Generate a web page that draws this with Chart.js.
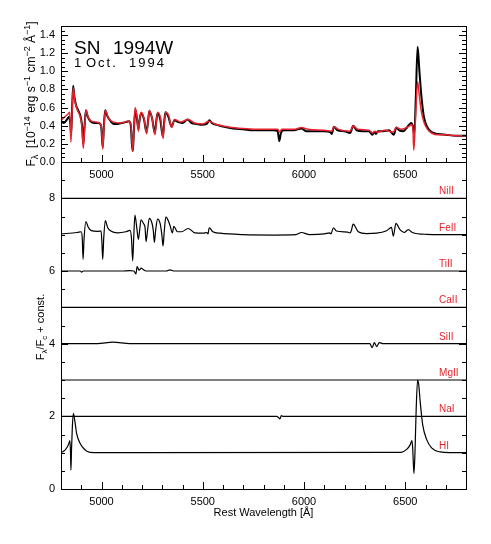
<!DOCTYPE html>
<html>
<head>
<meta charset="utf-8">
<script src="https://cdn.jsdelivr.net/npm/chart.js@4.4.1/dist/chart.umd.min.js"></script>
<style>
  html, body { margin: 0; padding: 0; background: #fff; }
  #wrap { position: relative; width: 491px; height: 544px; }
  canvas { position: absolute; left: 0; top: 0; }
</style>
</head>
<body>
<div id="wrap">
  <canvas id="topPanel" width="491" height="544"></canvas>
  <canvas id="bottomPanel" width="491" height="544"></canvas>
</div>
<script>
// observed spectrum, SN 1994W, 1 Oct 1994 (black)
const obsWave = [4800, 4815, 4830, 4840, 4846, 4850, 4855, 4860, 4866, 4875, 4885, 4897, 4905, 4910, 4915, 4923, 4932, 4945, 4965, 4985,
  4998, 5006, 5012, 5018, 5030, 5045, 5060, 5080, 5100, 5120, 5135, 5145, 5150, 5155, 5160, 5167, 5175, 5182, 5189, 5196,
  5210, 5222, 5230, 5236, 5250, 5263, 5270, 5277, 5290, 5303, 5310, 5316, 5330, 5346, 5360, 5380, 5400, 5425, 5445, 5470,
  5495, 5520, 5533, 5545, 5570, 5600, 5650, 5700, 5750, 5800, 5850, 5870, 5878, 5886, 5900, 5950, 5988, 6010, 6050, 6100,
  6130, 6137, 6148, 6165, 6200, 6228, 6243, 6260, 6290, 6320, 6338, 6347, 6355, 6365, 6390, 6420, 6443, 6456, 6470, 6490,
  6505, 6515, 6530, 6537, 6545, 6552, 6561, 6570, 6580, 6592, 6610, 6630, 6660, 6700, 6750, 6800];
const obsFlux = [0.45, 0.43, 0.47, 0.50, 0.42, 0.30, 0.60, 0.84, 0.72, 0.62, 0.57, 0.50, 0.38, 0.20, 0.35, 0.57, 0.50, 0.45, 0.43, 0.43,
  0.40, 0.16, 0.40, 0.57, 0.50, 0.45, 0.42, 0.42, 0.43, 0.44, 0.45, 0.40, 0.20, 0.12, 0.35, 0.58, 0.48, 0.36, 0.48, 0.54,
  0.47, 0.33, 0.45, 0.56, 0.48, 0.32, 0.44, 0.54, 0.47, 0.28, 0.45, 0.55, 0.50, 0.39, 0.46, 0.44, 0.43, 0.47, 0.43, 0.42,
  0.41, 0.42, 0.46, 0.43, 0.41, 0.39, 0.37, 0.36, 0.35, 0.35, 0.35, 0.34, 0.23, 0.32, 0.35, 0.35, 0.37, 0.34, 0.34, 0.34,
  0.33, 0.31, 0.39, 0.35, 0.34, 0.32, 0.40, 0.35, 0.34, 0.34, 0.30, 0.33, 0.31, 0.34, 0.34, 0.35, 0.30, 0.38, 0.35, 0.34,
  0.37, 0.40, 0.43, 0.40, 0.32, 0.70, 1.27, 1.00, 0.72, 0.50, 0.38, 0.33, 0.31, 0.30, 0.29, 0.29];

// synthetic spectrum (red)
const modelWave = [4800, 4820, 4835, 4843, 4849, 4854, 4860, 4868, 4880, 4895, 4903, 4910, 4916, 4923, 4935, 4950, 4975, 4995, 5001, 5006,
  5012, 5019, 5035, 5060, 5100, 5130, 5145, 5150, 5154, 5159, 5166, 5176, 5182, 5188, 5196, 5210, 5223, 5229, 5236, 5250,
  5264, 5270, 5277, 5292, 5304, 5310, 5317, 5332, 5347, 5360, 5390, 5428, 5460, 5500, 5530, 5560, 5620, 5700, 5800, 5870,
  5880, 5890, 5950, 5988, 6020, 6100, 6137, 6148, 6170, 6228, 6243, 6265, 6320, 6340, 6350, 6360, 6400, 6440, 6456, 6480,
  6515, 6532, 6538, 6542, 6547, 6553, 6561, 6570, 6580, 6592, 6610, 6630, 6660, 6700, 6750, 6800];
const modelFlux = [0.46, 0.50, 0.53, 0.55, 0.22, 0.50, 0.82, 0.68, 0.58, 0.50, 0.40, 0.15, 0.35, 0.57, 0.49, 0.45, 0.44, 0.42, 0.35, 0.14,
  0.38, 0.57, 0.48, 0.44, 0.43, 0.45, 0.42, 0.25, 0.12, 0.30, 0.60, 0.48, 0.34, 0.46, 0.55, 0.48, 0.31, 0.42, 0.57, 0.48,
  0.30, 0.42, 0.55, 0.48, 0.26, 0.42, 0.55, 0.51, 0.38, 0.47, 0.44, 0.47, 0.43, 0.42, 0.45, 0.42, 0.39, 0.37, 0.36, 0.36,
  0.33, 0.36, 0.36, 0.38, 0.36, 0.35, 0.34, 0.39, 0.36, 0.34, 0.40, 0.36, 0.35, 0.32, 0.34, 0.33, 0.35, 0.33, 0.38, 0.36,
  0.39, 0.41, 0.36, 0.13, 0.30, 0.60, 0.885, 0.72, 0.55, 0.44, 0.36, 0.32, 0.30, 0.30, 0.29, 0.29];

// single-ion spectra, F/Fc + offset
const flatWave = [4800, 6800];
const niFlux = [8, 8];
const feWave = [4800, 4880, 4900, 4905, 4909, 4914, 4923, 4935, 4950, 4980, 4998, 5002, 5006, 5011, 5019, 5030, 5046, 5080, 5120, 5141,
  5148, 5154, 5159, 5165, 5174, 5182, 5188, 5195, 5208, 5215, 5220, 5227, 5236, 5250, 5256, 5261, 5267, 5277, 5290, 5298,
  5304, 5310, 5318, 5338, 5350, 5357, 5375, 5395, 5428, 5461, 5502, 5520, 5526, 5532, 5550, 5585, 5700, 5850, 5960, 5988,
  6028, 6100, 6127, 6133, 6145, 6160, 6215, 6227, 6233, 6243, 6268, 6309, 6358, 6408, 6432, 6441, 6454, 6474, 6495, 6515,
  6535, 6605, 6800];
const feFlux = [7.02, 7.06, 7.08, 6.9, 6.32, 6.9, 7.36, 7.2, 7.11, 7.09, 7.1, 6.8, 6.32, 6.9, 7.39, 7.2, 7.1, 7.05, 7.08, 7.12,
  6.9, 6.28, 6.9, 7.54, 7.2, 6.87, 7.1, 7.41, 7.3, 7.2, 6.81, 7.1, 7.45, 7.3, 7.1, 6.79, 7.1, 7.43, 7.3, 7.0,
  6.69, 7.1, 7.49, 7.26, 7.05, 7.23, 7.08, 7.08, 7.17, 7.05, 7.04, 7.06, 7.02, 7.19, 7.08, 7.04, 7.0, 6.99, 7.0, 7.06,
  7.0, 7.02, 7.05, 7.02, 7.19, 7.1, 7.07, 7.05, 7.1, 7.29, 7.08, 7.03, 7.04, 7.11, 7.2, 6.96, 7.31, 7.14, 7.06, 7.14,
  7.06, 7.01, 7.0];
const tiWave = [4800, 4895, 4902, 4910, 5000, 5100, 5140, 5160, 5170, 5176, 5186, 5196, 5206, 5220, 5320, 5338, 5360, 6800];
const tiFlux = [6.0, 6.0, 5.97, 6.0, 6.0, 6.0, 6.01, 6.0, 5.92, 6.12, 6.02, 6.08, 6.04, 6.0, 6.0, 6.03, 6.0, 6.0];
const caFlux = [5, 5];
const siWave = [4800, 4980, 5057, 5140, 6325, 6337, 6347, 6359, 6372, 6390, 6800];
const siFlux = [4.0, 4.0, 4.04, 4.0, 4.0, 3.89, 4.03, 3.92, 4.03, 4.0, 4.0];
const mgFlux = [3, 3];
const naWave = [4800, 5865, 5874, 5881, 5888, 5896, 6800];
const naFlux = [2, 2, 1.97, 1.93, 2.02, 2.0, 2.0];
const hWave = [4800, 4820, 4836, 4844, 4847, 4849, 4852, 4856, 4861, 4869, 4877, 4894, 4918, 4943, 4990,
  6480, 6507, 6523, 6533, 6537, 6540, 6543, 6548, 6554, 6561, 6567, 6573, 6586, 6606, 6630, 6672, 6720, 6800];
const hFlux = [1.0, 1.07, 1.21, 1.33, 1.0, 0.52, 1.1, 1.7, 2.08, 1.85, 1.53, 1.26, 1.08, 1.01, 1.0,
  1.01, 1.09, 1.2, 1.33, 1.1, 0.7, 0.43, 1.0, 2.2, 3.0, 2.85, 2.45, 1.77, 1.36, 1.13, 1.02, 1.0, 1.0];

const ionNames = ['HI', 'NaI', 'MgII', 'SiII', 'CaII', 'TiII', 'FeII', 'NiII'];
const ionLevels = [1, 2, 3, 4, 5, 6, 7, 8];

// tick labels
const waveTicks = [5000, 5500, 6000, 6500];
const fluxTicks = [0.0, 0.2, 0.4, 0.6, 0.8, 1.0, 1.2, 1.4];
const relTicks = [0, 2, 4, 6, 8];

const RED = 'rgb(230,35,45)';
const FONT = "'Liberation Sans', Arial, sans-serif";
Chart.defaults.font.family = FONT;
Chart.defaults.font.size = 11;
Chart.defaults.color = '#000';

function pairs(xs, ys) {
  return xs.map((x, i) => ({ x: x, y: ys[i] }));
}

function isMajor(v, step) {
  const r = v / step;
  return Math.abs(r - Math.round(r)) < 1e-6;
}

// closed box with inward ticks, IDL style
const framePlugin = {
  id: 'frame',
  afterDraw(chart, args, opts) {
    const ctx = chart.ctx, a = chart.chartArea;
    const xs = chart.scales.x, ys = chart.scales.y;
    ctx.save();
    ctx.strokeStyle = '#000';
    ctx.lineWidth = 1;
    ctx.strokeRect(Math.round(a.left) + 0.5, Math.round(a.top) + 0.5,
      Math.round(a.right - a.left), Math.round(a.bottom - a.top));
    ctx.beginPath();
    const nx = Math.round((xs.max - xs.min) / opts.xMinor);
    for (let i = 0; i <= nx; i++) {
      const v = xs.min + i * opts.xMinor;
      const px = Math.round(xs.getPixelForValue(v)) + 0.5;
      const len = isMajor(v, opts.xMajor) ? 7 : 4;
      ctx.moveTo(px, a.bottom);
      ctx.lineTo(px, a.bottom - len);
    }
    const ny = Math.round((ys.max - ys.min) / opts.yMinor);
    for (let i = 0; i <= ny; i++) {
      const v = ys.min + i * opts.yMinor;
      const py = Math.round(ys.getPixelForValue(v)) + 0.5;
      const len = isMajor(v, opts.yMajor) ? 7 : 4;
      ctx.moveTo(a.left, py);
      ctx.lineTo(a.left + len, py);
      ctx.moveTo(a.right, py);
      ctx.lineTo(a.right - len, py);
    }
    ctx.stroke();
    ctx.restore();
  }
};

// text with sub/superscripts, parts = [text, size, dy]
function drawRich(ctx, x, y, parts, angle) {
  ctx.save();
  ctx.translate(x, y);
  ctx.rotate(angle);
  ctx.textAlign = 'left';
  ctx.textBaseline = 'alphabetic';
  ctx.fillStyle = '#000';
  let total = 0;
  parts.forEach(p => {
    ctx.font = p[1] + 'px ' + FONT;
    total += ctx.measureText(p[0]).width;
  });
  let cx = -total / 2;
  parts.forEach(p => {
    ctx.font = p[1] + 'px ' + FONT;
    ctx.fillText(p[0], cx, p[2] || 0);
    cx += ctx.measureText(p[0]).width;
  });
  ctx.restore();
}

const topNotes = {
  id: 'topNotes',
  afterDraw(chart) {
    const ctx = chart.ctx;
    ctx.save();
    ctx.fillStyle = '#000';
    ctx.textAlign = 'left';
    ctx.textBaseline = 'alphabetic';
    ctx.font = '19px ' + FONT;
    ctx.fillText('SN', 74, 54);
    ctx.fillText('1994W', 113, 54);
    ctx.font = '13px ' + FONT;
    if ('letterSpacing' in ctx) ctx.letterSpacing = '2px';
    ctx.fillText('1', 74, 67);
    ctx.fillText('Oct.', 86, 67);
    ctx.fillText('1994', 129, 67);
    ctx.restore();
    drawRich(ctx, 35, 94, [
      ['F', 12], ['\u03bb', 9, 3], ['  [10', 12], ['\u221214', 9, -5], [' erg s', 12], ['\u22121', 9, -5],
      [' cm', 12], ['\u22122', 9, -5], [' \u00c5', 12], ['\u22121', 9, -5], [']', 12]
    ], -Math.PI / 2);
  }
};

const bottomNotes = {
  id: 'bottomNotes',
  afterDraw(chart) {
    const ctx = chart.ctx;
    const xs = chart.scales.x, ys = chart.scales.y;
    ctx.save();
    ctx.fillStyle = RED;
    ctx.font = '10px ' + FONT;
    ctx.textAlign = 'left';
    ctx.textBaseline = 'middle';
    ionNames.forEach((name, i) => {
      ctx.fillText(name, xs.getPixelForValue(6667), ys.getPixelForValue(ionLevels[i] + 0.19));
    });
    ctx.fillStyle = '#000';
    ctx.font = '11px ' + FONT;
    ctx.textAlign = 'center';
    ctx.textBaseline = 'middle';
    ctx.fillText('Rest Wavelength [\u00c5]', (chart.chartArea.left + chart.chartArea.right) / 2, 513);
    ctx.restore();
    drawRich(ctx, 43.5, 327, [
      ['F', 11], ['\u03bb', 8, 3], ['/F', 11], ['c', 8, 3], [' + const.', 11]
    ], -Math.PI / 2);
  }
};

function fixedTicks(values) {
  return s => { s.ticks = values.map(v => ({ value: v })); };
}

function xAxis(h) {
  return {
    type: 'linear', min: 4800, max: 6800,
    grid: { display: false, drawTicks: false }, border: { display: false },
    afterBuildTicks: fixedTicks(waveTicks),
    ticks: { autoSkip: false, maxRotation: 0, padding: 6, callback: v => String(v) },
    afterFit: s => { s.height = h; }
  };
}

const baseOptions = {
  responsive: false,
  animation: false,
  elements: { point: { radius: 0 }, line: { cubicInterpolationMode: 'monotone' } },
  plugins: { legend: { display: false }, tooltip: { enabled: false } }
};

new Chart(document.getElementById('topPanel'), {
  type: 'line',
  data: {
    datasets: [
      { label: 'model', data: pairs(modelWave, modelFlux), borderColor: RED, borderWidth: 1.5, order: 0 },
      { label: 'observed', data: pairs(obsWave, obsFlux), borderColor: '#000', borderWidth: 2, order: 1 }
    ]
  },
  options: Object.assign({}, baseOptions, {
    layout: { padding: { left: 0, top: 26, right: 25, bottom: 362 } },
    plugins: Object.assign({}, baseOptions.plugins, {
      frame: { xMinor: 100, xMajor: 500, yMinor: 0.05, yMajor: 0.2 }
    }),
    scales: {
      x: xAxis(20),
      y: {
        min: 0, max: 1.5,
        grid: { display: false, drawTicks: false }, border: { display: false },
        afterBuildTicks: fixedTicks(fluxTicks),
        ticks: { padding: 6, callback: v => v.toFixed(1) },
        afterFit: s => { s.width = 61; }
      }
    }
  }),
  plugins: [framePlugin, topNotes]
});

const ionLine = (xs, ys) => ({ data: pairs(xs, ys), borderColor: '#000', borderWidth: 1.2 });

new Chart(document.getElementById('bottomPanel'), {
  type: 'line',
  data: {
    datasets: [
      ionLine(flatWave, niFlux),
      ionLine(feWave, feFlux),
      ionLine(tiWave, tiFlux),
      ionLine(flatWave, caFlux),
      ionLine(siWave, siFlux),
      ionLine(flatWave, mgFlux),
      ionLine(naWave, naFlux),
      ionLine(hWave, hFlux)
    ]
  },
  options: Object.assign({}, baseOptions, {
    layout: { padding: { left: 0, top: 162, right: 25, bottom: 25 } },
    plugins: Object.assign({}, baseOptions.plugins, {
      frame: { xMinor: 100, xMajor: 500, yMinor: 0.5, yMajor: 2 }
    }),
    scales: {
      x: xAxis(30),
      y: {
        min: 0, max: 9,
        grid: { display: false, drawTicks: false }, border: { display: false },
        afterBuildTicks: fixedTicks(relTicks),
        ticks: { padding: 6 },
        afterFit: s => { s.width = 61; }
      }
    }
  }),
  plugins: [framePlugin, bottomNotes]
});
</script>
</body>
</html>
